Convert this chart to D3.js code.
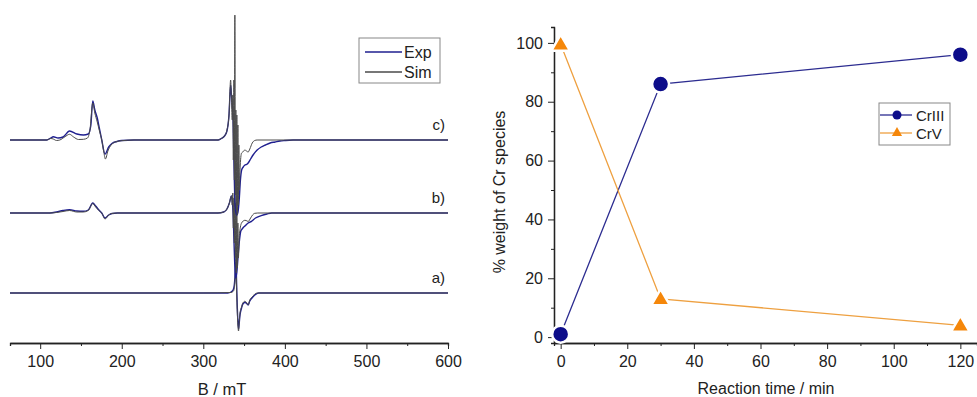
<!DOCTYPE html>
<html>
<head>
<meta charset="utf-8">
<script src="https://cdnjs.cloudflare.com/ajax/libs/d3/7.8.5/d3.min.js"></script>
<style>
  body { margin: 0; background: #fff; }
  text { font-family: "Liberation Sans", Arial, sans-serif; fill: #222; }
</style>
</head>
<body>
<div id="chart"></div>
<script>
// EPR spectra, [B in mT, signal]
var expA = [[63,0],[300,0],[330,0],[334,1],[336.5,3],[338,8],[339,18],[339.9,30],[340.5,20],[341.1,0],[341.7,-15],[342.4,-28],[343.2,-36],[344,-30],[345,-22],[346.9,-15],[348.5,-11],[350.9,-9.5],[352.5,-10],[355,-12],[357,-8],[360.7,-4],[364,-1.5],[368,0],[600,0]];
var simA = [[63,0],[300,0],[334,0.5],[337,2],[338.5,8],[339.3,20],[339.9,35],[340.5,15],[341.1,-5],[341.7,-20],[342.4,-32],[343.2,-38],[344,-30],[345,-20],[346.9,-14],[348.5,-10],[350.9,-8.3],[352.5,-9],[355,-11.7],[357,-7],[360.7,-3.3],[364,-0.5],[366.8,0],[600,0]];

var expB = [[63,0],[112,0],[120,1],[128,2.5],[136,3.3],[145,2],[153,1.7],[159,3],[164.5,10],[168,7],[172,3],[175.5,0],[179.5,-5],[184,-2],[188,-0.5],[195,0],[318,0],[325,1],[329,4],[332,10],[334.5,17],[335.5,12],[336.5,0],[337.5,-25],[338.5,-50],[339.5,-65],[341,-60],[342.5,-45],[344,-30],[346,-18],[347,-16.7],[349,-14.5],[351,-13],[355,-10],[359,-8.3],[364,-5],[371,-2.7],[378,-1],[384,0],[600,0]];
var simB = [[63,0],[112,0],[120,0.5],[128,1.5],[136,2.5],[145,1],[153,1],[159,2.5],[164.5,9.5],[168,6],[172,2.5],[175.5,0],[179.5,-6],[184,-2],[188,-0.5],[195,0],[318,0],[325,1],[329,4],[332,10],[334.5,17],[335.5,8],[336.2,20],[336.8,-15],[337.5,15],[338.1,-30],[338.7,30],[339.3,-45],[339.9,10],[340.5,-60],[341.1,5],[341.7,-55],[342.4,-10],[343,-45],[344,-25],[345.5,-14],[346.9,-10],[350.9,-7.3],[352.5,-7.5],[355,-8.5],[358,-5],[360.7,-1.7],[363,-0.3],[366.8,0],[600,0]];

var expC = [[63,0],[108,0],[113,2],[116,3.3],[122,2],[128,3],[136,9],[145,6],[153,5],[159,6],[162,14],[164.5,39],[167,30],[170,22],[172.5,12],[175.5,0],[179.5,-14],[184,-7],[188,-3.5],[194,-1.5],[200,-0.5],[215,0],[318,0],[322,1.5],[326,4],[329,9],[331.5,25],[333.5,55],[334.5,45],[335.5,35],[336.5,20],[337.5,-20],[338.5,-55],[339.5,-70],[341,-75],[342.5,-72],[344,-60],[345.5,-40],[347,-30],[349,-27],[351,-25],[353,-24.5],[355,-23],[358,-19],[361,-15],[366,-10],[371,-7],[376,-5],[382,-3],[388,-2],[394,-1],[400,-0.5],[410,0],[600,0]];
var simC = [[63,0],[108,0],[113,1.5],[116,1],[120,-0.5],[124,0],[130,3],[136,5.7],[141,3],[147,0.5],[153,0.7],[158,2],[161,10],[164.5,37],[167,27],[170,18],[173,8],[175.5,0],[178,-12],[180,-19],[183,-11],[187,-5],[192,-2],[200,-0.7],[215,0],[318,0],[322,1.5],[326,4],[329,10],[331.5,25],[333.5,60],[334.5,40],[335.5,20],[336.2,45],[336.8,-20],[337.5,60],[338.1,-40],[338.7,125],[339.3,-55],[339.9,30],[340.5,-70],[341.1,25],[341.7,-75],[342.4,15],[343,-65],[343.6,-5],[344.2,-50],[345,-30],[346.9,-13],[348.5,-12],[350.9,-10],[352.1,-10.5],[355,-12],[357,-9],[360,-3],[363,-0.5],[366,0],[600,0]];

var traceLabels = ["a)", "b)", "c)"];
var traceOffsets = [50, 130, 203];

// kinetics, right panel
var times = [0, 30, 120];
var crIII = [1, 86, 96];
var crV = [99.5, 13, 4];
var seriesNames = ["CrIII", "CrV"];

var width = 977;
var height = 397;
var expColor = "#1f1f8f";
var simColor = "#4a4a4a";
var blue = "#0d0d8a";
var orange = "#f5870a";

var svg = d3.select("#chart").append("svg")
  .attr("width", width)
  .attr("height", height);

//---------------- left panel: spectra ----------------
var xL = d3.scaleLinear().domain([63, 600]).range([10, 448]);
var yL = d3.scaleLinear().domain([0, 343]).range([343, 0]);

var axL = svg.append("g")
  .attr("transform", "translate(0,343)")
  .call(d3.axisBottom(xL).tickValues([100, 200, 300, 400, 500, 600]).tickSize(6).tickPadding(7).tickSizeOuter(0));
axL.append("g").call(d3.axisBottom(xL).tickValues(d3.range(150, 600, 100)).tickSize(3).tickFormat(""));

var spectra = [[expA, simA], [expB, simB], [expC, simC]];
spectra.forEach(function(pair, i) {
  var off = traceOffsets[i];
  var line = d3.line()
    .x(function(d) { return xL(d[0]); })
    .y(function(d) { return yL(off + d[1]); })
    .curve(d3.curveMonotoneX);
  svg.append("path").datum(pair[0])
    .attr("fill", "none").attr("stroke", expColor).attr("stroke-width", 1.4)
    .attr("d", line);
  svg.append("path").datum(pair[1])
    .attr("fill", "none").attr("stroke", simColor).attr("stroke-width", 1)
    .attr("d", line);
  svg.append("text")
    .attr("x", 445).attr("y", yL(off) - 10)
    .attr("text-anchor", "end")
    .style("font-size", "15px")
    .text(traceLabels[i]);
});

// legend
var legL = svg.append("g").attr("transform", "translate(359,38)");
legL.append("rect").attr("width", 81).attr("height", 45)
  .attr("fill", "#fff").attr("stroke", "#888");
[["Exp", expColor], ["Sim", simColor]].forEach(function(d, i) {
  legL.append("line").attr("x1", 6).attr("x2", 43)
    .attr("y1", 14 + i * 20).attr("y2", 14 + i * 20)
    .attr("stroke", d[1]).attr("stroke-width", 1.3);
  legL.append("text").attr("x", 45).attr("y", 20 + i * 20)
    .style("font-size", "16px").text(d[0]);
});

svg.append("text").attr("x", 222).attr("y", 395)
  .attr("text-anchor", "middle").style("font-size", "16.5px").text("B / mT");

//---------------- right panel: kinetics ----------------
var xR = d3.scaleLinear().domain([-2, 125]).range([554, 977]);
var yR = d3.scaleLinear().domain([-2, 105.4]).range([343, 27]);

var axX = svg.append("g").attr("transform", "translate(0,343)")
  .call(d3.axisBottom(xR).tickValues(d3.range(0, 121, 20)).tickSize(6).tickPadding(7).tickSizeOuter(0));
axX.append("g").call(d3.axisBottom(xR).tickValues(d3.range(10, 125, 20)).tickSize(3).tickFormat(""));

var axY = svg.append("g").attr("transform", "translate(554,0)")
  .call(d3.axisLeft(yR).tickValues(d3.range(0, 101, 20)).tickSize(6).tickPadding(5).tickSizeOuter(0));
axY.append("g").call(d3.axisLeft(yR).tickValues(d3.range(10, 100, 20)).tickSize(3).tickFormat(""));

svg.selectAll(".domain").attr("stroke", "#222").attr("stroke-width", 1.3);
svg.selectAll(".tick line").attr("stroke", "#222");
svg.selectAll(".tick text").style("font-size", "16px")
  .style("font-family", "'Liberation Sans', Arial, sans-serif").attr("fill", "#222");

var lineR = d3.line()
  .x(function(d) { return xR(d[0]); })
  .y(function(d) { return yR(d[1]); });

var dataIII = times.map(function(t, i) { return [t, crIII[i]]; });
var dataV = times.map(function(t, i) { return [t, crV[i]]; });

svg.append("path").datum(dataIII)
  .attr("fill", "none").attr("stroke", "#2c2c90").attr("stroke-width", 1.3).attr("d", lineR);
svg.append("path").datum(dataV)
  .attr("fill", "none").attr("stroke", "#eea040").attr("stroke-width", 1.3).attr("d", lineR);

var tri = d3.symbol().type(d3.symbolTriangle);

// markers with white halo so the lines stop short of them
svg.selectAll(".circ").data(dataIII).enter().append("circle")
  .attr("cx", function(d) { return xR(d[0]); })
  .attr("cy", function(d) { return yR(d[1]); })
  .attr("r", 8.5)
  .attr("fill", blue).attr("stroke", "#fff").attr("stroke-width", 2.5);
svg.selectAll(".tri").data(dataV).enter().append("path")
  .attr("transform", function(d) { return "translate(" + xR(d[0]) + "," + (yR(d[1]) + 1) + ")"; })
  .attr("d", tri.size(150)())
  .attr("fill", orange).attr("stroke", "#fff").attr("stroke-width", 2.5);

// legend
var legR = svg.append("g").attr("transform", "translate(879,103)");
legR.append("rect").attr("width", 71).attr("height", 42)
  .attr("fill", "#fff").attr("stroke", "#888");
legR.append("line").attr("x1", 1).attr("x2", 33).attr("y1", 12).attr("y2", 12)
  .attr("stroke", "#2c2c90").attr("stroke-width", 1.3);
legR.append("circle").attr("cx", 18).attr("cy", 12).attr("r", 4.5).attr("fill", blue);
legR.append("line").attr("x1", 1).attr("x2", 33).attr("y1", 30).attr("y2", 30)
  .attr("stroke", "#eea040").attr("stroke-width", 1.3);
legR.append("path").attr("transform", "translate(18,30)").attr("d", tri.size(45)()).attr("fill", orange);
seriesNames.forEach(function(n, i) {
  legR.append("text").attr("x", 37).attr("y", 18 + i * 18)
    .style("font-size", "15px").text(n);
});

svg.append("text").attr("x", 766).attr("y", 394)
  .attr("text-anchor", "middle").style("font-size", "16px").text("Reaction time / min");
svg.append("text")
  .attr("transform", "translate(505,192) rotate(-90)")
  .attr("text-anchor", "middle").style("font-size", "16px").text("% weight of Cr species");
</script>
</body>
</html>
